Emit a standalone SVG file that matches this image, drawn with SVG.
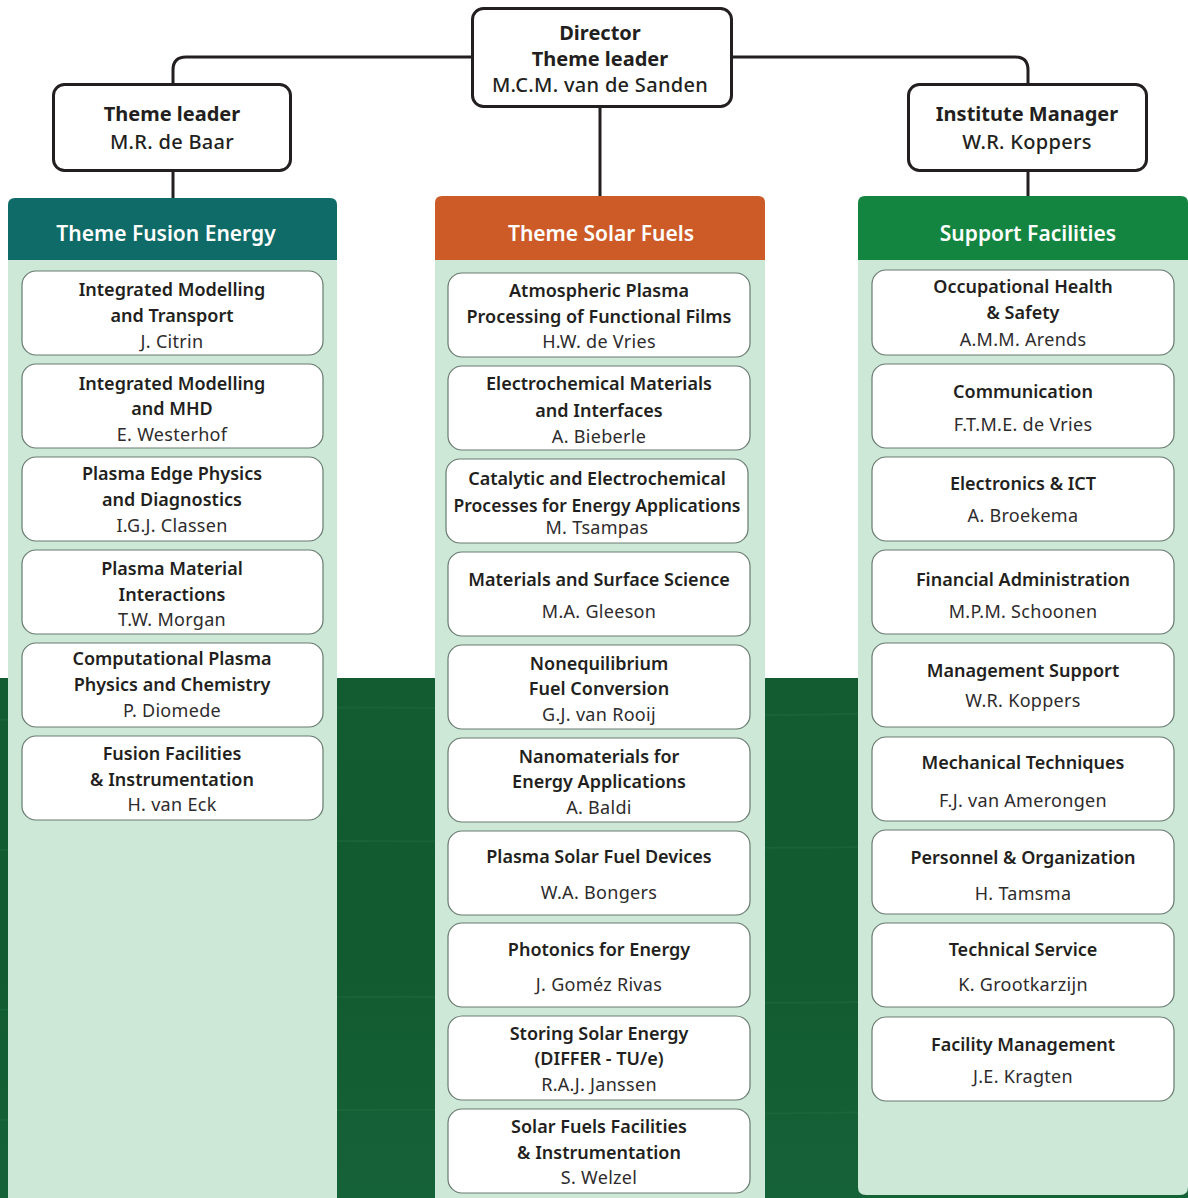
<svg xmlns="http://www.w3.org/2000/svg" width="1188" height="1198" viewBox="0 0 1188 1198">
<defs>
<linearGradient id="bgGrad" x1="0" y1="0" x2="0" y2="1">
<stop offset="0" stop-color="#135c31"/>
<stop offset="0.5" stop-color="#125a2f"/>
<stop offset="1" stop-color="#166238"/>
</linearGradient>
<style>
.conn{fill:none;stroke:#231f20;stroke-width:3;stroke-linecap:butt}
.top{fill:#fff;stroke:#231f20;stroke-width:3}
.box{fill:#fff;stroke:#687a70;stroke-width:1.2}
.panel{fill:#cde8d7}
.t{font-family:"Noto Sans","DejaVu Sans",sans-serif;font-size:18px;fill:#231f20;text-anchor:middle}
.b{font-weight:600}
.n{font-weight:400;fill:#2e2b2c;letter-spacing:0.3px}
.hd{font-family:"Noto Sans","DejaVu Sans",sans-serif;font-size:20px;font-weight:700;fill:#231f20;text-anchor:middle}
.hn{font-family:"Noto Sans","DejaVu Sans",sans-serif;font-size:20px;font-weight:500;fill:#231f20;text-anchor:middle;letter-spacing:0.3px}
.ct{font-family:"Noto Sans","DejaVu Sans",sans-serif;font-size:21px;font-weight:600;fill:#fff;text-anchor:middle}
.streak{stroke:#2a7a4a;stroke-width:2;opacity:0.25;fill:none}
</style>
</defs>
<rect width="1188" height="1198" fill="#fff"/>
<rect x="0" y="678" width="1188" height="520" fill="url(#bgGrad)"/>
<g id="background-streaks">
<path class="streak" d="M0,720 Q300,700 600,712 T1188,690"/>
<path class="streak" d="M0,850 Q300,835 600,845 T1188,830"/>
<path class="streak" d="M0,1010 Q300,990 600,1000 T1188,985"/>
<path class="streak" d="M0,1120 Q300,1105 600,1112 T1188,1095"/>
</g>

<g id="connectors">
<path class="conn" d="M472,57 H186 Q173,57 173,70 V84"/>
<path class="conn" d="M731,57 H1015 Q1028,57 1028,70 V84"/>
<path class="conn" d="M600,106 V196"/>
<path class="conn" d="M173,170 V198"/>
<path class="conn" d="M1028,170 V196"/>
</g>

<g id="director">
<rect class="top" x="472.5" y="8.5" width="259" height="98" rx="11"/>
<text class="hd" x="600" y="40">Director</text>
<text class="hd" x="600" y="66">Theme leader</text>
<text class="hn" x="600" y="92">M.C.M. van de Sanden</text>
</g>
<g id="theme-leader-baar">
<rect class="top" x="53.5" y="84.5" width="237" height="86" rx="11"/>
<text class="hd" x="172" y="121">Theme leader</text>
<text class="hn" x="172" y="149">M.R. de Baar</text>
</g>
<g id="institute-manager">
<rect class="top" x="908.5" y="84.5" width="238" height="86" rx="11"/>
<text class="hd" x="1027" y="121">Institute Manager</text>
<text class="hn" x="1027" y="149">W.R. Koppers</text>
</g>

<!-- Fusion column -->
<g id="col-fusion">
<path class="panel" d="M8,260 H337 V1198 H8 Z"/>
<path d="M8,260 V205 Q8,198 15,198 H330 Q337,198 337,205 V260 Z" fill="#0f6b67"/>
<text class="ct" x="166" y="241">Theme Fusion Energy</text>
</g>
<g id="fusion-1"><rect class="box" x="22" y="271" width="301" height="84" rx="14"/>
<text class="t b" x="172" y="296">Integrated Modelling</text><text class="t b" x="172" y="322">and Transport</text><text class="t n" x="172" y="348">J. Citrin</text></g>
<g id="fusion-2"><rect class="box" x="22" y="364" width="301" height="84" rx="14"/>
<text class="t b" x="172" y="390">Integrated Modelling</text><text class="t b" x="172" y="415">and MHD</text><text class="t n" x="172" y="441">E. Westerhof</text></g>
<g id="fusion-3"><rect class="box" x="22" y="457" width="301" height="84" rx="14"/>
<text class="t b" x="172" y="480">Plasma Edge Physics</text><text class="t b" x="172" y="506">and Diagnostics</text><text class="t n" x="172" y="532">I.G.J. Classen</text></g>
<g id="fusion-4"><rect class="box" x="22" y="550" width="301" height="84" rx="14"/>
<text class="t b" x="172" y="575">Plasma Material</text><text class="t b" x="172" y="601">Interactions</text><text class="t n" x="172" y="626">T.W. Morgan</text></g>
<g id="fusion-5"><rect class="box" x="22" y="643" width="301" height="84" rx="14"/>
<text class="t b" x="172" y="665">Computational Plasma</text><text class="t b" x="172" y="691">Physics and Chemistry</text><text class="t n" x="172" y="717">P. Diomede</text></g>
<g id="fusion-6"><rect class="box" x="22" y="736" width="301" height="84" rx="14"/>
<text class="t b" x="172" y="760">Fusion Facilities</text><text class="t b" x="172" y="786">&amp; Instrumentation</text><text class="t n" x="172" y="811">H. van Eck</text></g>

<!-- Solar column -->
<g id="col-solar">
<path class="panel" d="M435,260 H765 V1198 H435 Z"/>
<path d="M435,260 V203 Q435,196 442,196 H758 Q765,196 765,203 V260 Z" fill="#cd5b27"/>
<text class="ct" x="601" y="241">Theme Solar Fuels</text>
</g>
<g id="solar-1"><rect class="box" x="448" y="273" width="302" height="84" rx="14"/>
<text class="t b" x="599" y="297">Atmospheric Plasma</text><text class="t b" x="599" y="323">Processing of Functional Films</text><text class="t n" x="599" y="348">H.W. de Vries</text></g>
<g id="solar-2"><rect class="box" x="448" y="366" width="302" height="84" rx="14"/>
<text class="t b" x="599" y="390">Electrochemical Materials</text><text class="t b" x="599" y="417">and Interfaces</text><text class="t n" x="599" y="443">A. Bieberle</text></g>
<g id="solar-3"><rect class="box" x="446" y="459" width="302" height="84" rx="14"/>
<text class="t b" x="597" y="485">Catalytic and Electrochemical</text><text class="t b" x="597" y="512" style="font-size:17.5px">Processes for Energy Applications</text><text class="t n" x="597" y="534">M. Tsampas</text></g>
<g id="solar-4"><rect class="box" x="448" y="552" width="302" height="84" rx="14"/>
<text class="t b" x="599" y="586">Materials and Surface Science</text><text class="t n" x="599" y="618">M.A. Gleeson</text></g>
<g id="solar-5"><rect class="box" x="448" y="645" width="302" height="84" rx="14"/>
<text class="t b" x="599" y="670">Nonequilibrium</text><text class="t b" x="599" y="695">Fuel Conversion</text><text class="t n" x="599" y="721">G.J. van Rooij</text></g>
<g id="solar-6"><rect class="box" x="448" y="738" width="302" height="84" rx="14"/>
<text class="t b" x="599" y="763">Nanomaterials for</text><text class="t b" x="599" y="788">Energy Applications</text><text class="t n" x="599" y="814">A. Baldi</text></g>
<g id="solar-7"><rect class="box" x="448" y="831" width="302" height="84" rx="14"/>
<text class="t b" x="599" y="863">Plasma Solar Fuel Devices</text><text class="t n" x="599" y="899">W.A. Bongers</text></g>
<g id="solar-8"><rect class="box" x="448" y="923" width="302" height="84" rx="14"/>
<text class="t b" x="599" y="956">Photonics for Energy</text><text class="t n" x="599" y="991">J. Goméz Rivas</text></g>
<g id="solar-9"><rect class="box" x="448" y="1016" width="302" height="84" rx="14"/>
<text class="t b" x="599" y="1040">Storing Solar Energy</text><text class="t b" x="599" y="1065">(DIFFER - TU/e)</text><text class="t n" x="599" y="1091">R.A.J. Janssen</text></g>
<g id="solar-10"><rect class="box" x="448" y="1109" width="302" height="84" rx="14"/>
<text class="t b" x="599" y="1133">Solar Fuels Facilities</text><text class="t b" x="599" y="1159">&amp; Instrumentation</text><text class="t n" x="599" y="1184">S. Welzel</text></g>

<!-- Support column -->
<g id="col-support">
<path class="panel" d="M858,260 H1188 V1187 Q1188,1195 1180,1195 H866 Q858,1195 858,1187 Z"/>
<path d="M858,260 V203 Q858,196 865,196 H1181 Q1188,196 1188,203 V260 Z" fill="#148541"/>
<text class="ct" x="1028" y="241">Support Facilities</text>
</g>
<g id="support-1"><rect class="box" x="872" y="270" width="302" height="85" rx="14"/>
<text class="t b" x="1023" y="293">Occupational Health</text><text class="t b" x="1023" y="319">&amp; Safety</text><text class="t n" x="1023" y="346">A.M.M. Arends</text></g>
<g id="support-2"><rect class="box" x="872" y="364" width="302" height="84" rx="14"/>
<text class="t b" x="1023" y="398">Communication</text><text class="t n" x="1023" y="431">F.T.M.E. de Vries</text></g>
<g id="support-3"><rect class="box" x="872" y="457" width="302" height="84" rx="14"/>
<text class="t b" x="1023" y="490">Electronics &amp; ICT</text><text class="t n" x="1023" y="522">A. Broekema</text></g>
<g id="support-4"><rect class="box" x="872" y="550" width="302" height="84" rx="14"/>
<text class="t b" x="1023" y="586">Financial Administration</text><text class="t n" x="1023" y="618">M.P.M. Schoonen</text></g>
<g id="support-5"><rect class="box" x="872" y="643" width="302" height="84" rx="14"/>
<text class="t b" x="1023" y="677">Management Support</text><text class="t n" x="1023" y="707">W.R. Koppers</text></g>
<g id="support-6"><rect class="box" x="872" y="737" width="302" height="84" rx="14"/>
<text class="t b" x="1023" y="769">Mechanical Techniques</text><text class="t n" x="1023" y="807">F.J. van Amerongen</text></g>
<g id="support-7"><rect class="box" x="872" y="830" width="302" height="84" rx="14"/>
<text class="t b" x="1023" y="864">Personnel &amp; Organization</text><text class="t n" x="1023" y="900">H. Tamsma</text></g>
<g id="support-8"><rect class="box" x="872" y="923" width="302" height="84" rx="14"/>
<text class="t b" x="1023" y="956">Technical Service</text><text class="t n" x="1023" y="991">K. Grootkarzijn</text></g>
<g id="support-9"><rect class="box" x="872" y="1017" width="302" height="84" rx="14"/>
<text class="t b" x="1023" y="1051">Facility Management</text><text class="t n" x="1023" y="1083">J.E. Kragten</text></g>
</svg>
